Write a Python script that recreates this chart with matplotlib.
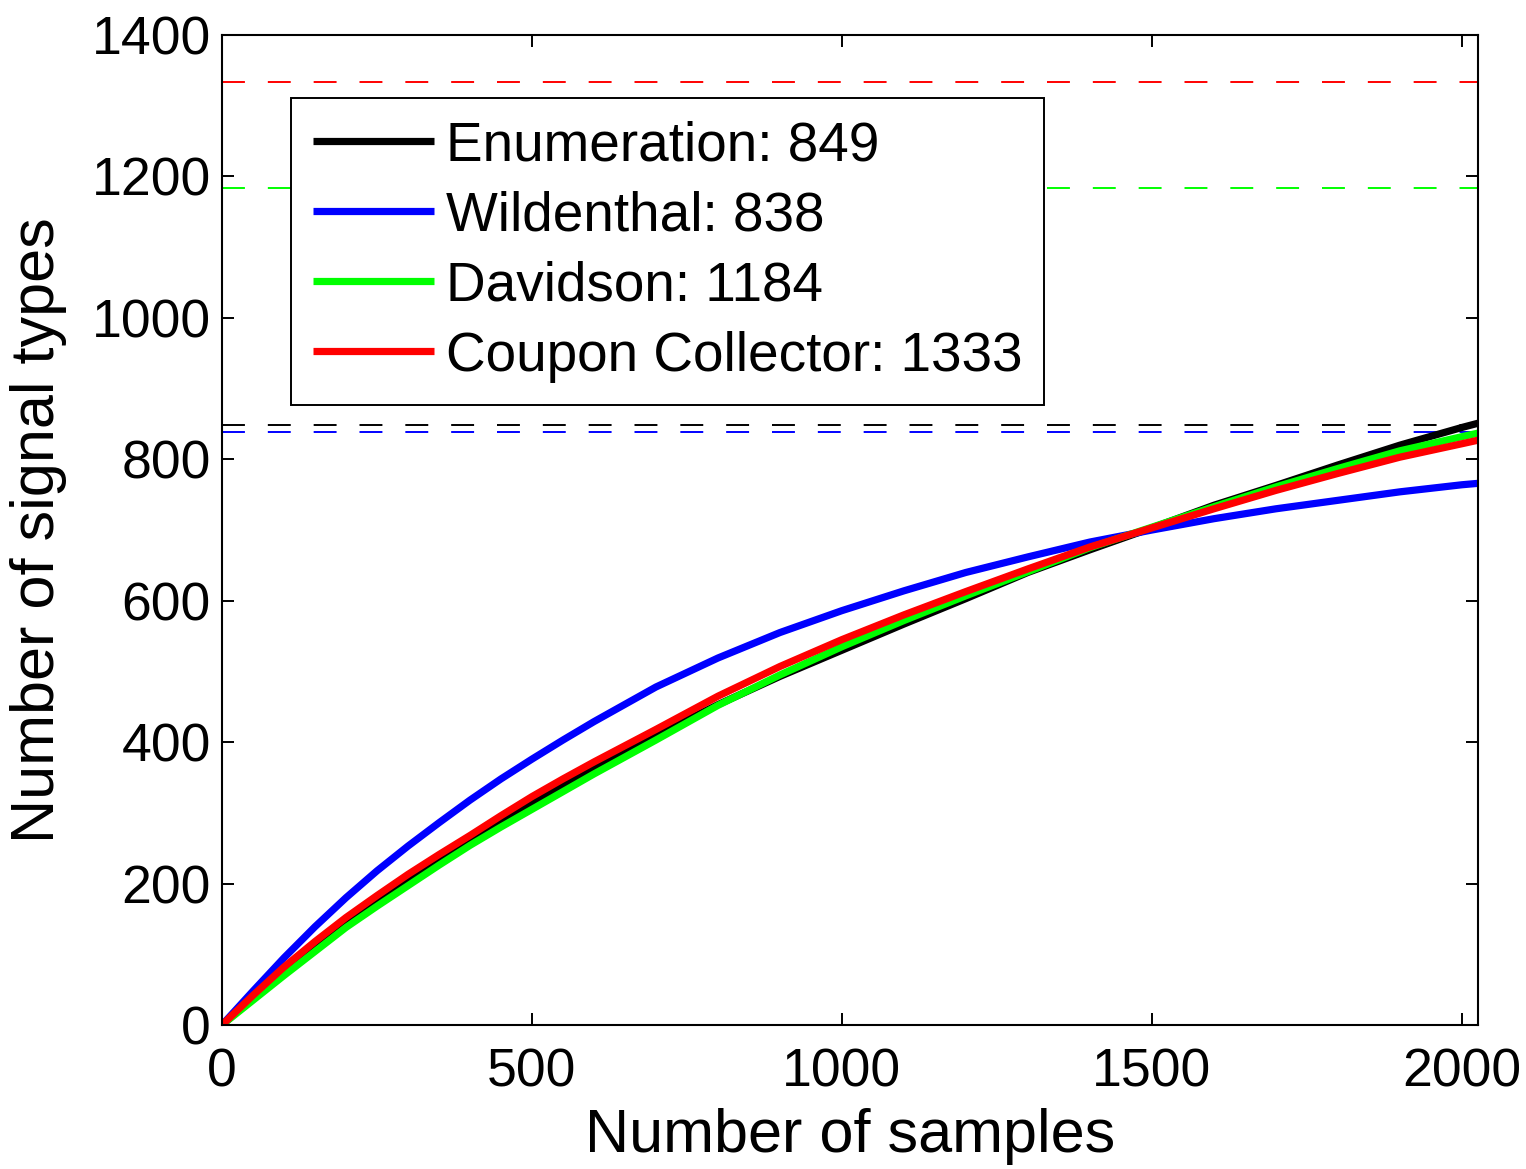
import matplotlib
matplotlib.use("Agg")
import matplotlib.pyplot as plt

plt.rcParams['font.family'] = ['Liberation Sans', 'DejaVu Sans']
plt.rcParams['lines.scale_dashes'] = False

# Number of samples at which each estimate is evaluated
samples = [0, 50, 100, 150, 200, 250, 300, 350, 400, 450, 500, 550, 600, 700,
           800, 900, 1000, 1100, 1200, 1300, 1400, 1500, 1600, 1700, 1800,
           1900, 2000, 2026]

enumeration = [0, 38, 75, 111, 145, 176, 205, 234, 262, 288, 313, 338, 362,
               410, 453, 493, 530, 567, 603, 640, 672, 703, 735, 763, 792,
               820, 845, 851]
wildenthal = [0, 48, 95, 139, 180, 218, 253, 286, 318, 348, 376, 403, 429,
              478, 519, 555, 586, 614, 640, 662, 683, 700, 716, 730, 742,
              754, 764, 766]
davidson = [0, 35, 70, 104, 138, 168, 197, 226, 254, 280, 305, 330, 355,
            403, 452, 495, 535, 572, 607, 641, 675, 704, 733, 761, 787,
            812, 832, 837]
coupon = [0, 42, 82, 118, 152, 183, 213, 241, 268, 296, 323, 348, 372,
          418, 465, 507, 545, 580, 613, 645, 676, 703, 730, 756, 780,
          803, 822, 827]

# Asymptotic estimates of the total number of signal types
names = ['Enumeration', 'Wildenthal', 'Davidson', 'Coupon Collector']
totals = [849, 838, 1184, 1333]
colors = ['#000000', '#0000ff', '#00ff00', '#ff0000']
series = [enumeration, wildenthal, davidson, coupon]

x_max = 2026

fig = plt.figure(figsize=(15.26, 11.69), dpi=100)
ax = fig.add_axes([0.1455, 0.1232, 0.8230, 0.8468])

for total, c in zip(totals, colors):
    ax.plot([0, x_max], [total, total], color=c, lw=1.4,
            dashes=(16.5, 16.5))

handles = []
for name, total, c, ys in zip(names, totals, colors, series):
    h, = ax.plot(samples, ys, color=c, lw=5.2, solid_capstyle='butt',
                 solid_joinstyle='round', label=f'{name}: {total}')
    handles.append(h)

ax.set_xlim(0, x_max)
ax.set_ylim(0, 1400)
ax.set_xticks([0, 500, 1000, 1500, 2000])
ax.set_yticks(range(0, 1401, 200))

ax.tick_params(direction='in', length=8.6, width=1.4, labelsize=38.5,
               top=True, right=True)
ax.tick_params(axis='x', pad=16)
ax.tick_params(axis='y', pad=8)
for sp in ax.spines.values():
    sp.set_linewidth(1.5)

ax.set_xlabel('Number of samples', fontsize=44, labelpad=8)
ax.set_ylabel('Number of signal types', fontsize=44, labelpad=18)

leg = ax.legend(handles=handles, loc='upper left',
                bbox_to_anchor=(0.055, 0.936), borderaxespad=0,
                fontsize=39.5, fancybox=False, framealpha=1,
                edgecolor='black', handlelength=2.2, handletextpad=0.22,
                labelspacing=0.33, borderpad=0.4)
leg.get_frame().set_linewidth(1.4)

fig.savefig('out.png', dpi=100)
